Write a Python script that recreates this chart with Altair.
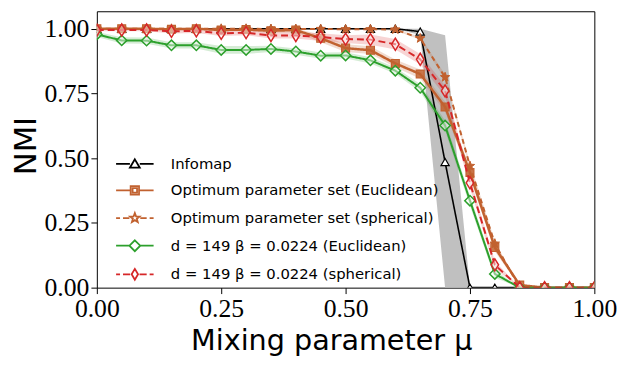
import math
import altair as alt
import pandas as pd

mu = [0.00, 0.05, 0.10, 0.15, 0.20, 0.25, 0.30, 0.35, 0.40, 0.45, 0.50,
      0.55, 0.60, 0.65, 0.70, 0.75, 0.80, 0.85, 0.90, 0.95, 1.00]

infomap    = [1.0, 1.0, 1.0, 1.0, 1.0, 1.0, 1.0, 1.0, 1.0, 1.0, 1.0,
              1.0, 1.0, 0.989, 0.485, 0.0, 0.0, 0.0, 0.0, 0.0, 0.0]
infomap_sd = [0, 0, 0, 0, 0, 0, 0, 0, 0, 0, 0,
              0, 0, 0.013, 0.49, 0, 0, 0, 0, 0, 0]

opt_euc    = [1.0, 1.0, 1.0, 0.998, 1.0, 0.995, 0.997, 0.992, 0.995, 0.963, 0.925,
              0.917, 0.866, 0.825, 0.698, 0.445, 0.155, 0.01, 0.0, 0.0, 0.0]
opt_euc_sd = [0.003, 0.003, 0.003, 0.004, 0.004, 0.006, 0.006, 0.008, 0.01, 0.015, 0.015,
              0.015, 0.015, 0.018, 0.02, 0.02, 0.015, 0.005, 0, 0, 0]

opt_sph    = [1.0, 1.0, 1.0, 1.0, 1.0, 1.0, 1.0, 0.999, 0.999, 0.999, 0.998,
              0.998, 0.997, 0.963, 0.813, 0.47, 0.17, 0.0, 0.0, 0.0, 0.0]
opt_sph_sd = [0, 0, 0, 0, 0, 0, 0, 0.002, 0.002, 0.002, 0.003,
              0.003, 0.004, 0.006, 0.01, 0.012, 0.01, 0, 0, 0, 0]

d149_euc    = [0.978, 0.955, 0.954, 0.936, 0.936, 0.918, 0.918, 0.922, 0.912, 0.896, 0.897,
               0.878, 0.838, 0.772, 0.626, 0.336, 0.053, 0.0, 0.0, 0.0, 0.0]
d149_euc_sd = [0.01, 0.012, 0.012, 0.012, 0.012, 0.015, 0.015, 0.012, 0.012, 0.012, 0.012,
               0.012, 0.012, 0.015, 0.02, 0.02, 0.015, 0, 0, 0, 0]

d149_sph    = [0.995, 0.995, 0.995, 0.99, 0.992, 0.982, 0.985, 0.974, 0.974, 0.968, 0.96,
               0.958, 0.94, 0.882, 0.76, 0.405, 0.088, 0.0, 0.0, 0.0, 0.0]
d149_sph_sd = [0.005, 0.005, 0.005, 0.008, 0.008, 0.01, 0.01, 0.012, 0.012, 0.015, 0.015,
               0.02, 0.02, 0.02, 0.02, 0.02, 0.015, 0, 0, 0, 0]

labels = ["Infomap",
          "Optimum parameter set (Euclidean)",
          "Optimum parameter set (spherical)",
          "d = 149 β = 0.0224 (Euclidean)",
          "d = 149 β = 0.0224 (spherical)"]
colors = ["#000000", "#c1612f", "#c1612f", "#2ca02c", "#d62728"]

x_ticks = [0.0, 0.25, 0.5, 0.75, 1.0]
y_ticks = [0.0, 0.25, 0.5, 0.75, 1.0]


def star_path(outer=1.0, inner=0.42):
    pts = []
    for k in range(10):
        r = outer if k % 2 == 0 else inner
        a = math.radians(-90 + 36 * k)
        pts.append(f"{r*math.cos(a):.3f},{r*math.sin(a):.3f}")
    return "M" + "L".join(pts) + "Z"


STAR = star_path()
THIN_DIAMOND = "M0,-1L0.62,0L0,1L-0.62,0Z"

TRI = "M0,-0.9L1,0.8L-1,0.8Z"
SQR = "M-0.85,-0.85H0.85V0.85H-0.85ZM-0.45,-0.45H0.45V0.45H-0.45Z"
DIA = "M0,-1.1L1.1,0L0,1.1L-1.1,0Z"


def solid(g):
    return f"M-3.8,0H-{g}M{g},0H3.8"


def dashed(g):
    return f"M-3.8,0H-3.0M-2.4,0H-{g + 0.3}M{g + 0.3},0H2.4M3.0,0H3.8"


legend_paths = [
    solid(1.0) + TRI,
    solid(0.85) + SQR,
    dashed(0.8) + STAR,
    solid(1.1) + DIA,
    dashed(0.65) + "M0,-1.1L0.65,0L0,1.1L-0.65,0Z",
]

xscale = alt.Scale(domain=[0, 1], nice=False, zero=False)
yscale = alt.Scale(domain=[0, 1.0675], nice=False, zero=False)

xaxis = alt.Axis(values=x_ticks, format=".2f", labelFont="Liberation Serif", labelFontSize=26,
                 labelBaseline="alphabetic", labelPadding=23, tickSize=6,
                 title="Mixing parameter μ", titleFont="DejaVu Sans", titleFontSize=29,
                 titleFontWeight="normal", titleBaseline="alphabetic", titleAlign="left",
                 titleX=95, titleY=63, labelFlush=False)
yaxis = alt.Axis(values=y_ticks, format=".2f", labelFont="Liberation Serif", labelFontSize=26,
                 labelPadding=2, tickSize=6, title="NMI", titleFont="DejaVu Sans",
                 titleFontSize=31, titleFontWeight="normal", titleAngle=270,
                 titleBaseline="alphabetic", titleAlign="center", titleX=-62, titleY=136)


def frame(vals, sd):
    lo = [max(0.0, v - s) for v, s in zip(vals, sd)]
    hi = [min(1.0, v + s) for v, s in zip(vals, sd)]
    return pd.DataFrame({"mu": mu, "nmi": vals, "lo": lo, "hi": hi})


series = [
    dict(vals=infomap, sd=infomap_sd, color=colors[0], band="#bdbdbd", band_op=0.95,
         dash=[1, 0], width=1.6, shape="triangle-up", size=70, fill="white", fill_op=1.0, sw=1.2),
    dict(vals=opt_euc, sd=opt_euc_sd, color=colors[1], band=colors[1], band_op=0.22,
         dash=[1, 0], width=2.5, shape="square", size=64, fill=colors[1], fill_op=0.85, sw=1.2),
    dict(vals=opt_sph, sd=opt_sph_sd, color=colors[2], band=colors[2], band_op=0.22,
         dash=[5, 4], width=2.0, shape=STAR, size=100, fill=colors[2], fill_op=1.0, sw=1.0),
    dict(vals=d149_euc, sd=d149_euc_sd, color=colors[3], band=colors[3], band_op=0.2,
         dash=[1, 0], width=2.0, shape="diamond", size=110, fill="white", fill_op=0.45, sw=1.5),
    dict(vals=d149_sph, sd=d149_sph_sd, color=colors[4], band=colors[4], band_op=0.2,
         dash=[7, 4], width=2.0, shape=THIN_DIAMOND, size=150, fill="white", fill_op=0.45, sw=1.5),
]

bands, lines = [], []
for s in series:
    df = frame(s["vals"], s["sd"])
    base = alt.Chart(df)
    bands.append(base.mark_area(color=s["band"], opacity=s["band_op"], clip=True).encode(
        x=alt.X("mu:Q", scale=xscale, axis=xaxis),
        y=alt.Y("lo:Q", scale=yscale, axis=yaxis),
        y2="hi:Q"))
    lines.append(base.mark_line(color=s["color"], strokeWidth=s["width"],
                                strokeDash=s["dash"], clip=True).encode(
        x=alt.X("mu:Q", scale=xscale, axis=xaxis),
        y=alt.Y("nmi:Q", scale=yscale, axis=yaxis)))
    lines.append(base.mark_point(shape=s["shape"], size=s["size"], filled=True, fill=s["fill"],
                                 fillOpacity=s["fill_op"], stroke=s["color"], strokeWidth=s["sw"],
                                 opacity=1, clip=True).encode(
        x=alt.X("mu:Q", scale=xscale, axis=xaxis),
        y=alt.Y("nmi:Q", scale=yscale, axis=yaxis)))

leg = alt.Legend(title=None, orient="none", legendX=31, legendY=147, symbolSize=100,
                 symbolStrokeWidth=1.8, labelFont="DejaVu Sans", labelFontSize=15,
                 labelOffset=29, rowPadding=10, padding=0, labelLimit=400, direction="vertical")

leg_df = pd.DataFrame({"series": labels, "x": [-1.0] * 5, "y": [0.5] * 5})
legend_layer = alt.Chart(leg_df).mark_point(size=100, filled=False, opacity=1, clip=True,
                                            strokeWidth=1.8).encode(
    x=alt.X("x:Q", scale=xscale, axis=xaxis),
    y=alt.Y("y:Q", scale=yscale, axis=yaxis),
    color=alt.Color("series:N", scale=alt.Scale(domain=labels, range=colors), legend=leg, sort=labels),
    shape=alt.Shape("series:N", scale=alt.Scale(domain=labels, range=legend_paths), legend=leg, sort=labels),
)

chart = alt.layer(*bands, *lines, legend_layer).properties(
    width=504, height=280,
    padding={"left": 90, "top": 1, "right": 26, "bottom": 72},
    autosize=alt.AutoSizeParams(type="none"),
).configure_view(stroke="black", strokeWidth=1).configure_axis(
    grid=False, domain=False, tickColor="black", labelColor="black", titleColor="black"
)

chart.save("out.html", embed_options={"renderer": "svg", "actions": False})
